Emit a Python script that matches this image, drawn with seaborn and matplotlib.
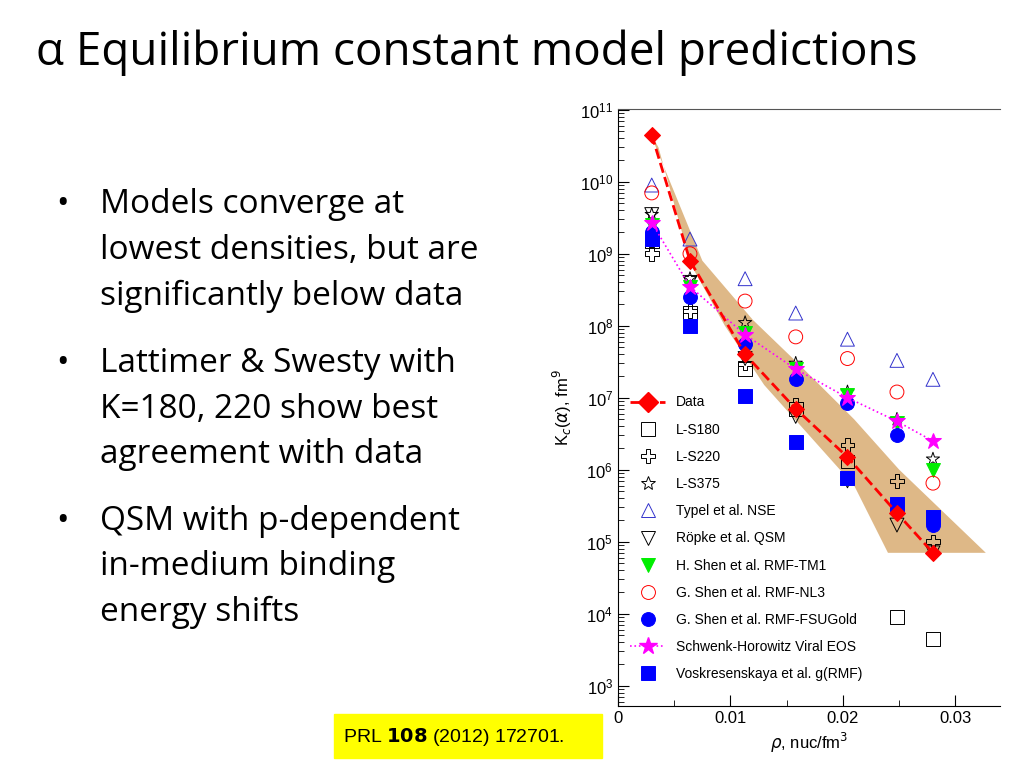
import numpy as np
import pandas as pd
import seaborn as sns
import matplotlib.pyplot as plt
from matplotlib.lines import Line2D
from matplotlib.patches import Rectangle

# densities (nuc/fm^3)
rho = [0.0030, 0.0064, 0.0113, 0.0158, 0.0204, 0.0248, 0.0280]

data_k = [4.5e10, 8e8, 4e7, 7e6, 1.5e6, 2.5e5, 7e4]
ls180 = [1.5e9, 1.5e8, 2.5e7, 7e6, 1.3e6, 9e3, 4.5e3]
ls220 = [1e9, 1.6e8, 3e7, 8e6, 2.2e6, 7e5, 1e5]
ls375 = [3.5e9, 4.5e8, 1.1e8, 3e7, 1.2e7, 5e6, 1.4e6]
typel = [9e9, 1.6e9, 4.5e8, 1.5e8, 6.5e7, 3.3e7, 1.8e7]
ropke = [3.5e9, 4e8, 3.5e7, 5.5e6, 7e5, 1.7e5, 7e4]
hshen = [2.5e9, 3.5e8, 8e7, 2.5e7, 1.1e7, 4.5e6, 1e6]
nl3 = [7e9, 1e9, 2.2e8, 7e7, 3.5e7, 1.2e7, 6.5e5]
fsu = [2e9, 2.5e8, 5.5e7, 1.8e7, 8.5e6, 3e6, 1.7e5]
viral = [2.7e9, 3.5e8, 7.5e7, 2.5e7, 1e7, 4.7e6, 2.5e6]
vosk = [1.6e9, 1e8, 1.05e7, 2.4e6, 7.7e5, 3.3e5, 2.2e5]

# uncertainty band outline
band_x = [0.0028, 0.0075, 0.012, 0.016, 0.021, 0.025, 0.0327,
          0.024, 0.021, 0.017, 0.013, 0.0095, 0.0065, 0.0036]
band_y = [5e10, 8e8, 1.2e8, 3e7, 5e6, 1e6, 7e4,
          7e4, 6e5, 3e6, 1.5e7, 1e8, 7e8, 3e10]

plt.rcParams["font.family"] = "Liberation Sans"
fig = plt.figure(figsize=(10.24, 7.68), dpi=100)
fig.text(0.035, 0.915, "α Equilibrium constant model predictions", fontsize=33,
         family="Open Sans")
bullets = ["Models converge at\nlowest densities, but are\nsignificantly below data",
           "Lattimer & Swesty with\nK=180, 220 show best\nagreement with data",
           "QSM with p-dependent\nin-medium binding\nenergy shifts"]
ys = [0.755, 0.548, 0.343]
for b, y in zip(bullets, ys):
    fig.text(0.055, y, "•", fontsize=24, va="top", family="Open Sans")
    fig.text(0.098, y, b, fontsize=24, va="top", linespacing=1.5, family="Open Sans")

fig.patches.append(Rectangle((0.326, 0.013), 0.262, 0.057, transform=fig.transFigure,
                             color="yellow", zorder=0))
fig.text(0.335, 0.041, "PRL $\\mathbf{108}$ (2012) 172701.", fontsize=14, va="center")

ax = fig.add_axes([0.6035, 0.081, 0.3735, 0.777])
ax.fill(band_x, band_y, color="#deb887", lw=0, zorder=0)

series = [
    ("L-S180", ls180, "s", "none", "black"),
    ("L-S220", ls220, "P", "none", "black"),
    ("L-S375", ls375, "*", "none", "black"),
    ("Typel et al. NSE", typel, "^", "none", "#3333cc"),
    ("Röpke et al. QSM", ropke, "v", "none", "black"),
    ("H. Shen et al. RMF-TM1", hshen, "v", "#00ee00", "#00ee00"),
    ("G. Shen et al. RMF-NL3", nl3, "o", "none", "red"),
    ("G. Shen et al. RMF-FSUGold", fsu, "o", "blue", "blue"),
    ("Voskresenskaya et al. g(RMF)", vosk, "s", "blue", "blue"),
]
handles = {}
for name, vals, m, fc, ec in series:
    df = pd.DataFrame({"rho": rho, "K": vals})
    sns.scatterplot(data=df, x="rho", y="K", ax=ax, marker=m, s=100,
                    facecolors=fc, edgecolors=ec, linewidth=0.7, zorder=3)
    handles[name] = Line2D([], [], ls="none", marker=m, ms=10, mfc=fc, mec=ec, mew=0.7)

df_v = pd.DataFrame({"rho": rho, "K": viral})
sns.lineplot(data=df_v, x="rho", y="K", ax=ax, color="magenta", ls=":", lw=1.2,
             marker="*", ms=12, mec="magenta", zorder=4)
df_d = pd.DataFrame({"rho": rho, "K": data_k})
sns.lineplot(data=df_d, x="rho", y="K", ax=ax, color="red", ls="--", lw=2,
             marker="D", ms=8, mec="red", zorder=5)

h_data = Line2D([], [], color="red", ls="--", lw=2, marker="D", ms=10)
h_viral = Line2D([], [], color="magenta", ls=":", lw=1.2, marker="*", ms=13)
order = ["Data", "L-S180", "L-S220", "L-S375", "Typel et al. NSE", "Röpke et al. QSM",
         "H. Shen et al. RMF-TM1", "G. Shen et al. RMF-NL3", "G. Shen et al. RMF-FSUGold",
         "Schwenk-Horowitz Viral EOS", "Voskresenskaya et al. g(RMF)"]
handles["Data"] = h_data
handles["Schwenk-Horowitz Viral EOS"] = h_viral
ax.legend([handles[k] for k in order], order, loc="lower left", frameon=False,
          fontsize=10, labelspacing=0.95, handlelength=2.5, bbox_to_anchor=(0.0, 0.02))

ax.set_yscale("log")
ax.set_xlim(0, 0.034)
ax.set_ylim(10**2.72, 10**11.01)
ax.set_xticks([0, 0.01, 0.02, 0.03])
ax.set_xticklabels(["0", "0.01", "0.02", "0.03"])
ax.set_xticks([0.005, 0.015, 0.025], minor=True)
ax.set_yticks([10.0**k for k in range(3, 12)])
ax.tick_params(direction="in", labelsize=12, length=8)
ax.tick_params(which="minor", direction="in", length=4)
ax.set_xlabel(r"$\rho$, nuc/fm$^3$", fontsize=12)
ax.set_ylabel(r"K$_c$($\alpha$), fm$^9$", fontsize=12)
ax.spines["right"].set_visible(False)
ax.spines["top"].set_color("#555555")

fig.savefig("out.png", dpi=100)
